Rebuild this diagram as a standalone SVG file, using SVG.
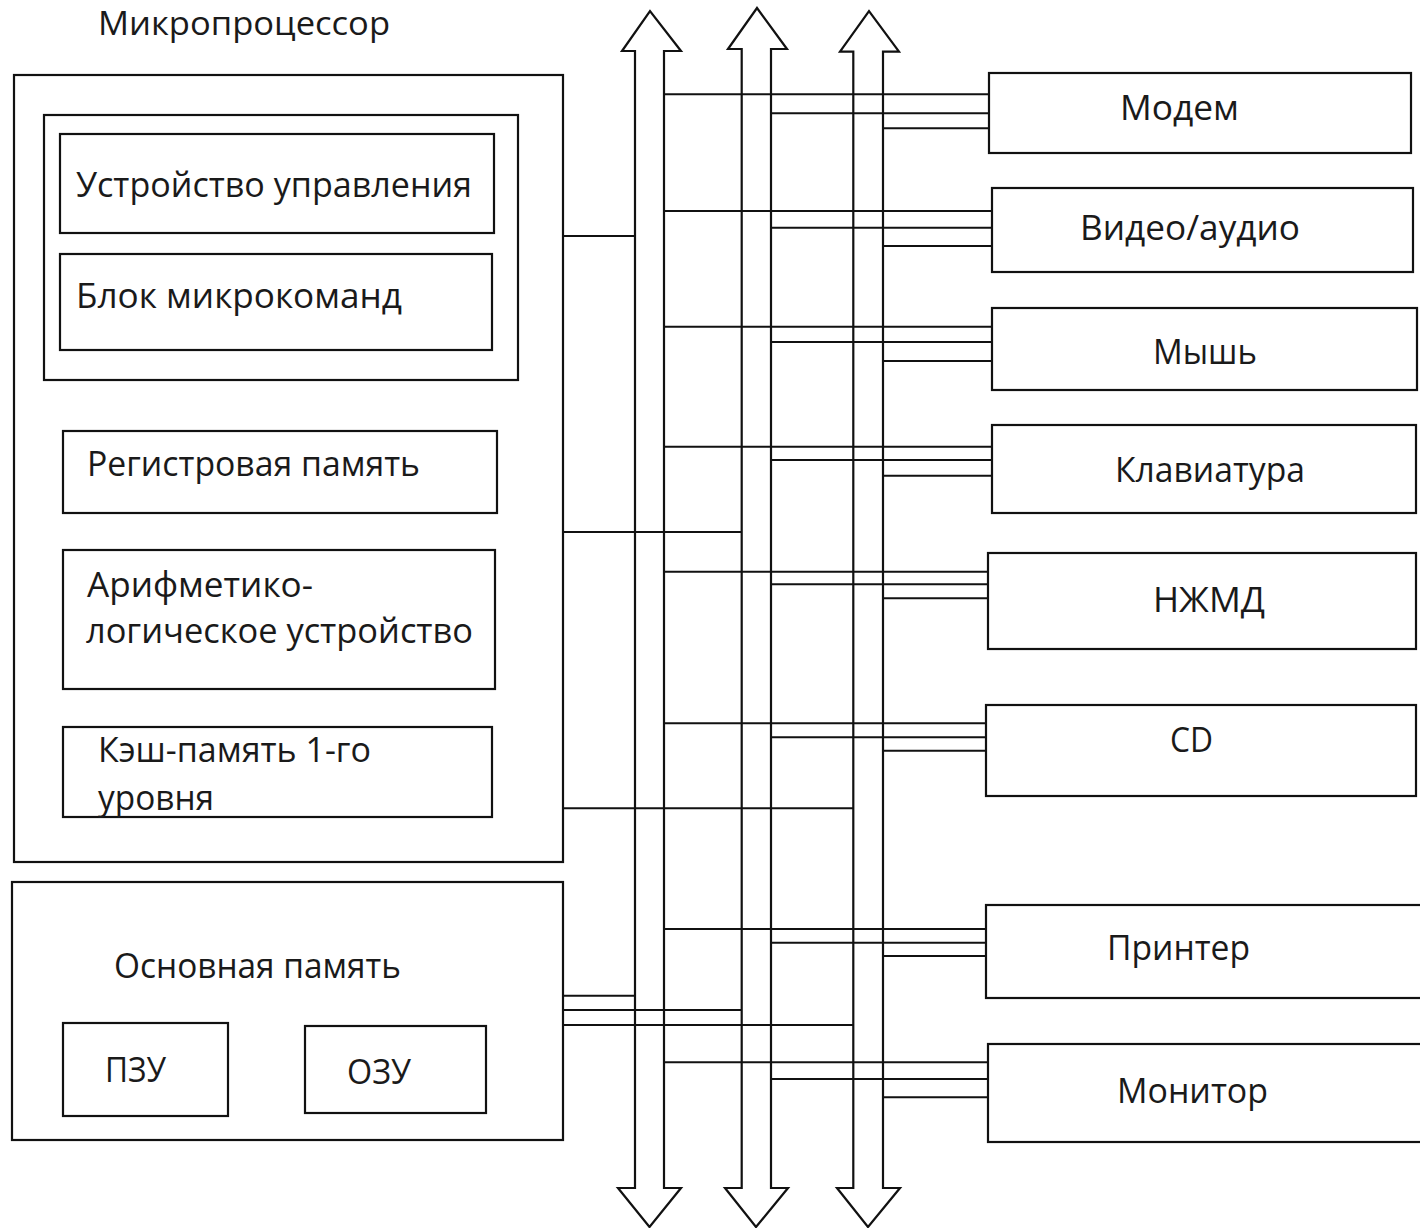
<svg xmlns="http://www.w3.org/2000/svg" width="1420" height="1228" viewBox="0 0 1420 1228">
<style>
.box{fill:none;stroke:#111;stroke-width:2.2}
.bus{fill:none;stroke:#111;stroke-width:2.2;stroke-linejoin:miter}
.wire{stroke:#111;stroke-width:2;fill:none}
.t{font-family:"Open Sans","Noto Sans","DejaVu Sans",sans-serif;font-size:34px;font-weight:500;fill:#1a1a1a}
.title{font-size:32px}
</style>
<rect x="0" y="0" width="1420" height="1228" fill="#fff"/>

<g id="connectors">
  <!-- buses -->
  <path class="bus" d="M635,51 L622,51 L650,11 L681,51 L664,51 L664,1188 L681,1188 L649.5,1227 L618,1188 L635,1188 Z"/>
  <path class="bus" d="M741.7,49 L728,49 L757,8 L787,49 L771,49 L771,1188 L788,1188 L756,1227 L725,1188 L741.7,1188 Z"/>
  <path class="bus" d="M853.3,51.7 L840,51.7 L869,11 L899,51.7 L883,51.7 L883,1188 L900,1188 L868,1227 L837,1188 L853.3,1188 Z"/>
  <!-- left side links -->
  <line class="wire" x1="564" y1="236" x2="635" y2="236"/>
  <line class="wire" x1="564" y1="532" x2="741.7" y2="532"/>
  <line class="wire" x1="564" y1="808.3" x2="853.3" y2="808.3"/>
  <line class="wire" x1="564" y1="995.7" x2="635" y2="995.7"/>
  <line class="wire" x1="564" y1="1010" x2="741.7" y2="1010"/>
  <line class="wire" x1="564" y1="1025" x2="853.3" y2="1025"/>
  <!-- modem -->
  <line class="wire" x1="664" y1="94.3" x2="989" y2="94.3"/>
  <line class="wire" x1="771" y1="113.3" x2="989" y2="113.3"/>
  <line class="wire" x1="883" y1="128.3" x2="989" y2="128.3"/>
  <!-- video -->
  <line class="wire" x1="664" y1="211" x2="992" y2="211"/>
  <line class="wire" x1="771" y1="227.7" x2="992" y2="227.7"/>
  <line class="wire" x1="883" y1="246" x2="992" y2="246"/>
  <!-- mouse -->
  <line class="wire" x1="664" y1="326.7" x2="992" y2="326.7"/>
  <line class="wire" x1="771" y1="342" x2="992" y2="342"/>
  <line class="wire" x1="883" y1="361" x2="992" y2="361"/>
  <!-- keyboard -->
  <line class="wire" x1="664" y1="446.7" x2="992" y2="446.7"/>
  <line class="wire" x1="771" y1="460" x2="992" y2="460"/>
  <line class="wire" x1="883" y1="475.7" x2="992" y2="475.7"/>
  <!-- hdd -->
  <line class="wire" x1="664" y1="571.7" x2="988" y2="571.7"/>
  <line class="wire" x1="771" y1="584.3" x2="988" y2="584.3"/>
  <line class="wire" x1="883" y1="598.3" x2="988" y2="598.3"/>
  <!-- cd -->
  <line class="wire" x1="664" y1="723.3" x2="986" y2="723.3"/>
  <line class="wire" x1="771" y1="737.3" x2="986" y2="737.3"/>
  <line class="wire" x1="883" y1="750.7" x2="986" y2="750.7"/>
  <!-- printer -->
  <line class="wire" x1="664" y1="929" x2="986" y2="929"/>
  <line class="wire" x1="771" y1="942.7" x2="986" y2="942.7"/>
  <line class="wire" x1="883" y1="956" x2="986" y2="956"/>
  <!-- monitor -->
  <line class="wire" x1="664" y1="1062.3" x2="988" y2="1062.3"/>
  <line class="wire" x1="771" y1="1079" x2="988" y2="1079"/>
  <line class="wire" x1="883" y1="1097.3" x2="988" y2="1097.3"/>
</g>

<g id="microprocessor">
  <text class="t title" x="98" y="35" textLength="292" lengthAdjust="spacingAndGlyphs">Микропроцессор</text>
  <rect class="box" x="14" y="75" width="549" height="787"/>
</g>
<g id="control-group">
  <rect class="box" x="44" y="115" width="474" height="265"/>
</g>
<g id="control-unit">
  <rect class="box" x="60" y="134" width="434" height="99"/>
  <text class="t" x="76" y="197" textLength="396" lengthAdjust="spacingAndGlyphs">Устройство управления</text>
</g>
<g id="microcode">
  <rect class="box" x="60" y="254" width="432" height="96"/>
  <text class="t" x="76" y="308" textLength="326" lengthAdjust="spacingAndGlyphs">Блок микрокоманд</text>
</g>
<g id="registers">
  <rect class="box" x="63" y="431" width="434" height="82"/>
  <text class="t" x="87" y="476" textLength="333" lengthAdjust="spacingAndGlyphs">Регистровая память</text>
</g>
<g id="alu">
  <rect class="box" x="63" y="550" width="432" height="139"/>
  <text class="t" x="87" y="597" textLength="226" lengthAdjust="spacingAndGlyphs">Арифметико-</text>
  <text class="t" x="86" y="643" textLength="387" lengthAdjust="spacingAndGlyphs">логическое устройство</text>
</g>
<g id="cache">
  <rect class="box" x="63" y="727" width="429" height="90"/>
  <text class="t" x="98" y="762" textLength="273" lengthAdjust="spacingAndGlyphs">Кэш-память 1-го</text>
  <text class="t" x="98" y="810" textLength="116" lengthAdjust="spacingAndGlyphs">уровня</text>
</g>
<g id="main-memory">
  <rect class="box" x="12" y="882" width="551" height="258"/>
  <text class="t" x="114" y="978" textLength="287" lengthAdjust="spacingAndGlyphs">Основная память</text>
</g>
<g id="rom">
  <rect class="box" x="63" y="1023" width="165" height="93"/>
  <text class="t" x="105" y="1082" textLength="61" lengthAdjust="spacingAndGlyphs">ПЗУ</text>
</g>
<g id="ram">
  <rect class="box" x="305" y="1026" width="181" height="87"/>
  <text class="t" x="347" y="1084" textLength="64" lengthAdjust="spacingAndGlyphs">ОЗУ</text>
</g>

<g id="modem">
  <rect class="box" x="989" y="73" width="422" height="80"/>
  <text class="t" x="1120" y="120" textLength="119" lengthAdjust="spacingAndGlyphs">Модем</text>
</g>
<g id="video-audio">
  <rect class="box" x="992" y="188" width="421" height="84"/>
  <text class="t" x="1080" y="240" textLength="220" lengthAdjust="spacingAndGlyphs">Видео/аудио</text>
</g>
<g id="mouse">
  <rect class="box" x="992" y="308" width="425" height="82"/>
  <text class="t" x="1153" y="364" textLength="104" lengthAdjust="spacingAndGlyphs">Мышь</text>
</g>
<g id="keyboard">
  <rect class="box" x="992" y="425" width="424" height="88"/>
  <text class="t" x="1115" y="482" textLength="190" lengthAdjust="spacingAndGlyphs">Клавиатура</text>
</g>
<g id="hdd">
  <rect class="box" x="988" y="553" width="428" height="96"/>
  <text class="t" x="1153" y="612" textLength="112" lengthAdjust="spacingAndGlyphs">НЖМД</text>
</g>
<g id="cd">
  <rect class="box" x="986" y="705" width="430" height="91"/>
  <text class="t" x="1170" y="752" textLength="43" lengthAdjust="spacingAndGlyphs">CD</text>
</g>
<g id="printer">
  <rect class="box" x="986" y="905" width="444" height="93"/>
  <text class="t" x="1107" y="960" textLength="143" lengthAdjust="spacingAndGlyphs">Принтер</text>
</g>
<g id="monitor">
  <rect class="box" x="988" y="1044" width="442" height="98"/>
  <text class="t" x="1117" y="1103" textLength="151" lengthAdjust="spacingAndGlyphs">Монитор</text>
</g>
</svg>
